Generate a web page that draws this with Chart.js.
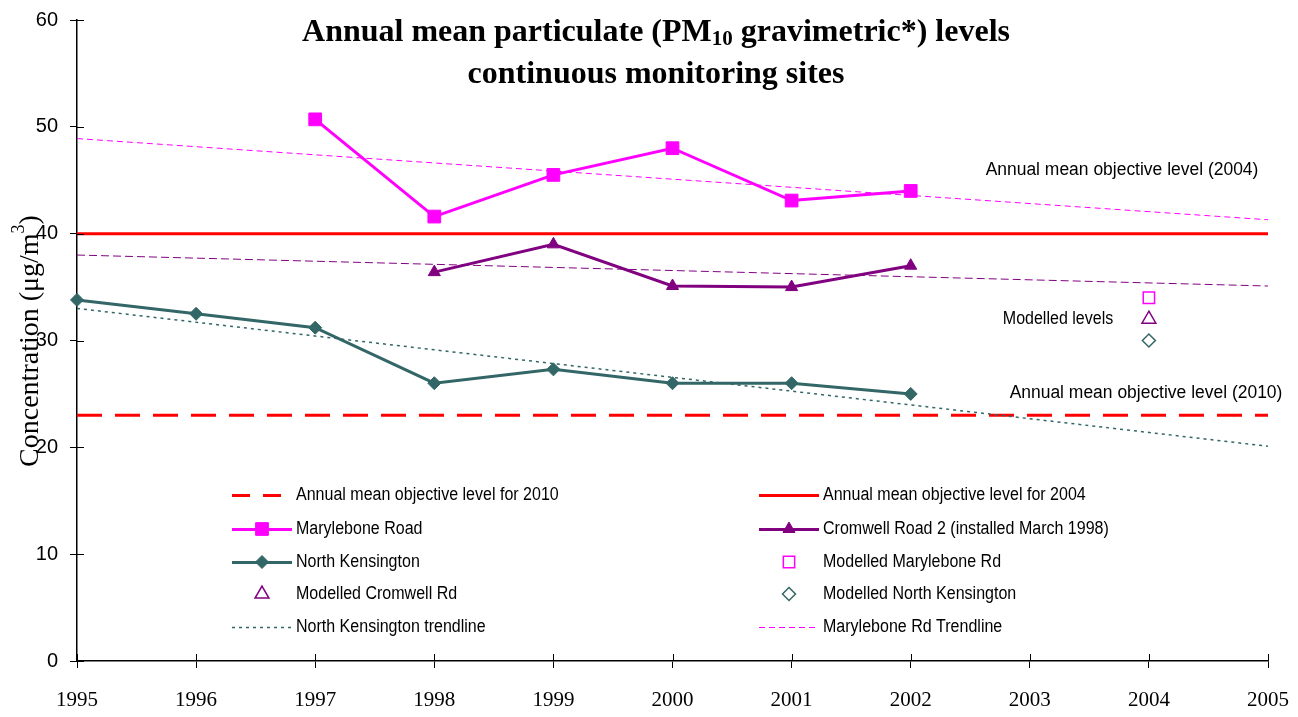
<!DOCTYPE html>
<html>
<head>
<meta charset="utf-8">
<script src="https://cdn.jsdelivr.net/npm/chart.js@4"></script>
<style>
  body { margin: 0; background: #fff; }
  #chart { display: block; }
</style>
</head>
<body>
<canvas id="chart" width="1298" height="717"></canvas>
<script>
// Data
const xTicks = [1995, 1996, 1997, 1998, 1999, 2000, 2001, 2002, 2003, 2004, 2005];
const maryYears = [1997, 1998, 1999, 2000, 2001, 2002];
const maryValues = [50.7, 41.6, 45.5, 48.0, 43.1, 44.0];
const cromYears = [1998, 1999, 2000, 2001, 2002];
const cromValues = [36.4, 39.0, 35.1, 35.0, 37.0];
const nkYears = [1995, 1996, 1997, 1998, 1999, 2000, 2001, 2002];
const nkValues = [33.8, 32.5, 31.2, 26.0, 27.3, 26.0, 26.0, 25.0];
const modelYears = [2004];
const modelMary = [34.0];
const modelCrom = [32.0];
const modelNk = [30.0];
const objYears = [1995, 2005];
const obj2004 = [40, 40];
const obj2010 = [23, 23];
const trendYears = [1995, 2005];
const maryTrend = [48.9, 41.3];
const cromTrend = [38.0, 35.1];
const nkTrend = [33.0, 20.1];

const MAGENTA = "#FF00FF";
const PURPLE = "#800080";
const TEAL = "#336666";
const RED = "#FF0000";

const pairs = (xs, ys) => xs.map((x, i) => ({ x: x, y: ys[i] }));

const lineSet = (label, data, color, width, dash, extra) => Object.assign({
    label: label,
    data: data,
    borderColor: color,
    backgroundColor: color,
    borderWidth: width,
    borderDash: dash,
    pointRadius: 0,
    tension: 0,
    clip: false
}, extra || {});

const datasets = [
    lineSet("Marylebone Rd Trendline", pairs(trendYears, maryTrend), MAGENTA, 1, [6, 4]),
    lineSet("Cromwell Rd Trendline", pairs(trendYears, cromTrend), PURPLE, 1, [8, 4]),
    lineSet("North Kensington trendline", pairs(trendYears, nkTrend), TEAL, 1.5, [3, 4]),
    lineSet("Annual mean objective level for 2010", pairs(objYears, obj2010), RED, 3, [25, 13]),
    lineSet("Annual mean objective level for 2004", pairs(objYears, obj2004), RED, 3, []),
    lineSet("Marylebone Road", pairs(maryYears, maryValues), MAGENTA, 3, [], {
        pointStyle: "rect", pointRadius: 9, pointBorderWidth: 1
    }),
    lineSet("Cromwell Road 2 (installed March 1998)", pairs(cromYears, cromValues), PURPLE, 3, [], {
        pointStyle: "triangle", pointRadius: 7, pointBorderWidth: 1
    }),
    lineSet("North Kensington", pairs(nkYears, nkValues), TEAL, 3, [], {
        pointStyle: "rectRot", pointRadius: 6.5, pointBorderWidth: 1
    }),
    lineSet("Modelled Marylebone Rd", pairs(modelYears, modelMary), MAGENTA, 1.5, [], {
        showLine: false, pointStyle: "rect", pointRadius: 8, pointBorderWidth: 1.5,
        pointBackgroundColor: "#fff"
    }),
    lineSet("Modelled Cromwell Rd", pairs(modelYears, modelCrom), PURPLE, 1.5, [], {
        showLine: false, pointStyle: "triangle", pointRadius: 8, pointBorderWidth: 1.5,
        pointBackgroundColor: "#fff"
    }),
    lineSet("Modelled North Kensington", pairs(modelYears, modelNk), TEAL, 1.5, [], {
        showLine: false, pointStyle: "rectRot", pointRadius: 6.5, pointBorderWidth: 1.5,
        pointBackgroundColor: "#fff"
    })
];

// legend rows: [label, column, row]
const legendItems = [
    ["Annual mean objective level for 2010", 0, 0],
    ["Annual mean objective level for 2004", 1, 0],
    ["Marylebone Road", 0, 1],
    ["Cromwell Road 2 (installed March 1998)", 1, 1],
    ["North Kensington", 0, 2],
    ["Modelled Marylebone Rd", 1, 2],
    ["Modelled Cromwell Rd", 0, 3],
    ["Modelled North Kensington", 1, 3],
    ["North Kensington trendline", 0, 4],
    ["Marylebone Rd Trendline", 1, 4]
];

// same shapes as Chart.js point styles
const drawMarker = (ctx, style, x, y, r, fill, stroke, width) => {
    ctx.save();
    ctx.setLineDash([]);
    ctx.beginPath();
    if (style === "rect") {
        const s = r * Math.SQRT1_2;
        ctx.rect(x - s, y - s, 2 * s, 2 * s);
    } else if (style === "triangle") {
        ctx.moveTo(x, y - r);
        ctx.lineTo(x + r * 0.866, y + r * 0.5);
        ctx.lineTo(x - r * 0.866, y + r * 0.5);
        ctx.closePath();
    } else if (style === "rectRot") {
        ctx.moveTo(x, y - r);
        ctx.lineTo(x + r, y);
        ctx.lineTo(x, y + r);
        ctx.lineTo(x - r, y);
        ctx.closePath();
    }
    ctx.fillStyle = fill;
    ctx.fill();
    ctx.lineWidth = width;
    ctx.strokeStyle = stroke;
    ctx.stroke();
    ctx.restore();
};

// narrow sans text, squeezed a little like the original
const squeezeText = (ctx, text, x, y, squeeze) => {
    const w = ctx.measureText(text).width;
    ctx.fillText(text, x, y, w * squeeze);
};

const decorPlugin = {
    id: "decor",
    afterDraw(chart) {
        const ctx = chart.ctx;
        const area = chart.chartArea;
        const xs = chart.scales.x;
        const ys = chart.scales.y;
        ctx.save();

        // inner halves of the crossing tick marks
        ctx.strokeStyle = "#000";
        ctx.lineWidth = 1;
        ctx.setLineDash([]);
        xTicks.forEach(v => {
            const px = Math.round(xs.getPixelForValue(v)) + 0.5;
            ctx.beginPath();
            ctx.moveTo(px, area.bottom);
            ctx.lineTo(px, area.bottom - 7);
            ctx.stroke();
        });
        for (let v = 0; v <= 60; v += 10) {
            const py = Math.round(ys.getPixelForValue(v)) + 0.5;
            ctx.beginPath();
            ctx.moveTo(area.left, py);
            ctx.lineTo(area.left + 7, py);
            ctx.stroke();
        }

        // title
        ctx.fillStyle = "#000";
        ctx.textBaseline = "alphabetic";
        const titleFont = "bold 32px 'Liberation Serif'";
        const subFont = "bold 21px 'Liberation Serif'";
        const t1a = "Annual mean particulate (PM";
        const t1b = "10";
        const t1c = " gravimetric*) levels";
        ctx.font = titleFont;
        const wa = ctx.measureText(t1a).width;
        const wc = ctx.measureText(t1c).width;
        ctx.font = subFont;
        const wb = ctx.measureText(t1b).width;
        const tx = 656 - (wa + wb + wc) / 2;
        ctx.textAlign = "left";
        ctx.font = titleFont;
        ctx.fillText(t1a, tx, 41);
        ctx.font = subFont;
        ctx.fillText(t1b, tx + wa, 45);
        ctx.font = titleFont;
        ctx.fillText(t1c, tx + wa + wb, 41);
        ctx.textAlign = "center";
        ctx.fillText("continuous monitoring sites", 656, 83);

        // y axis title, rotated
        ctx.save();
        ctx.translate(38, 341);
        ctx.rotate(-Math.PI / 2);
        const axFont = "28px 'Liberation Serif'";
        const axSup = "18px 'Liberation Serif'";
        const aa = "Concentration (\u03bcg/m";
        const ab = "3";
        const ac = ")";
        ctx.font = axFont;
        const awa = ctx.measureText(aa).width;
        const awc = ctx.measureText(ac).width;
        ctx.font = axSup;
        const awb = ctx.measureText(ab).width;
        const ax0 = -(awa + awb + awc) / 2;
        ctx.textAlign = "left";
        ctx.font = axFont;
        ctx.fillText(aa, ax0, 0);
        ctx.font = axSup;
        ctx.fillText(ab, ax0 + awa, -14);
        ctx.font = axFont;
        ctx.fillText(ac, ax0 + awa + awb, 0);
        ctx.restore();

        // annotations
        ctx.font = "18px 'Liberation Sans'";
        ctx.textAlign = "center";
        ctx.textBaseline = "middle";
        squeezeText(ctx, "Annual mean objective level (2004)", 1122, 170, 0.97);
        squeezeText(ctx, "Annual mean objective level (2010)", 1146, 393, 0.97);
        squeezeText(ctx, "Modelled levels", 1058, 319, 0.89);

        // legend
        const colX = [232, 759];
        const rowY = [495, 529, 562, 594, 627];
        const dsByLabel = {};
        chart.data.datasets.forEach(d => { dsByLabel[d.label] = d; });
        ctx.font = "18px 'Liberation Sans'";
        ctx.textAlign = "left";
        ctx.textBaseline = "middle";
        legendItems.forEach(item => {
            const d = dsByLabel[item[0]];
            const x0 = colX[item[1]];
            const y0 = rowY[item[2]];
            const mid = x0 + 30;
            if (d.showLine !== false) {
                ctx.save();
                ctx.strokeStyle = d.borderColor;
                ctx.lineWidth = d.borderWidth;
                ctx.setLineDash(d.borderDash.length ? d.borderDash.map(v => Math.min(v, 18)) : []);
                ctx.beginPath();
                ctx.moveTo(x0, y0 + 0.5);
                ctx.lineTo(x0 + 60, y0 + 0.5);
                ctx.stroke();
                ctx.restore();
            }
            if (d.pointStyle && d.pointRadius > 0) {
                const fill = d.pointBackgroundColor || d.borderColor;
                drawMarker(ctx, d.pointStyle, mid, y0, d.pointRadius, fill, d.borderColor, d.pointBorderWidth);
            }
            ctx.fillStyle = "#000";
            squeezeText(ctx, item[0], x0 + 64, y0, 0.89);
        });

        ctx.restore();
    }
};

// drop the label overflow padding so the plot area matches the original
const noOverflow = scale => {
    scale.paddingLeft = 0;
    scale.paddingRight = 0;
    scale.paddingTop = 0;
    scale.paddingBottom = 0;
};

new Chart(document.getElementById("chart"), {
    type: "line",
    data: { datasets: datasets },
    options: {
        responsive: false,
        animation: false,
        devicePixelRatio: 1,
        layout: { padding: { top: 20, right: 30, left: 0, bottom: 0 } },
        plugins: {
            legend: { display: false },
            tooltip: { enabled: false }
        },
        scales: {
            x: {
                type: "linear",
                min: 1995,
                max: 2005,
                afterFit: scale => { scale.height = 56; noOverflow(scale); },
                afterBuildTicks: scale => { scale.ticks = xTicks.map(v => ({ value: v })); },
                ticks: {
                    callback: v => String(v),
                    color: "#000",
                    padding: 20,
                    maxRotation: 0,
                    font: { family: "'Liberation Serif'", size: 21 }
                },
                grid: {
                    drawOnChartArea: false,
                    drawTicks: true,
                    tickLength: 7,
                    color: "#000",
                    lineWidth: 1
                },
                border: { color: "#000", width: 1.5 }
            },
            y: {
                min: 0,
                max: 60,
                afterFit: scale => { scale.width = 77; noOverflow(scale); },
                ticks: {
                    stepSize: 10,
                    color: "#000",
                    padding: 12,
                    font: { family: "'Liberation Sans'", size: 20 }
                },
                grid: {
                    drawOnChartArea: false,
                    drawTicks: true,
                    tickLength: 7,
                    color: "#000",
                    lineWidth: 1
                },
                border: { color: "#000", width: 1.5 }
            }
        }
    },
    plugins: [decorPlugin]
});
</script>
</body>
</html>
